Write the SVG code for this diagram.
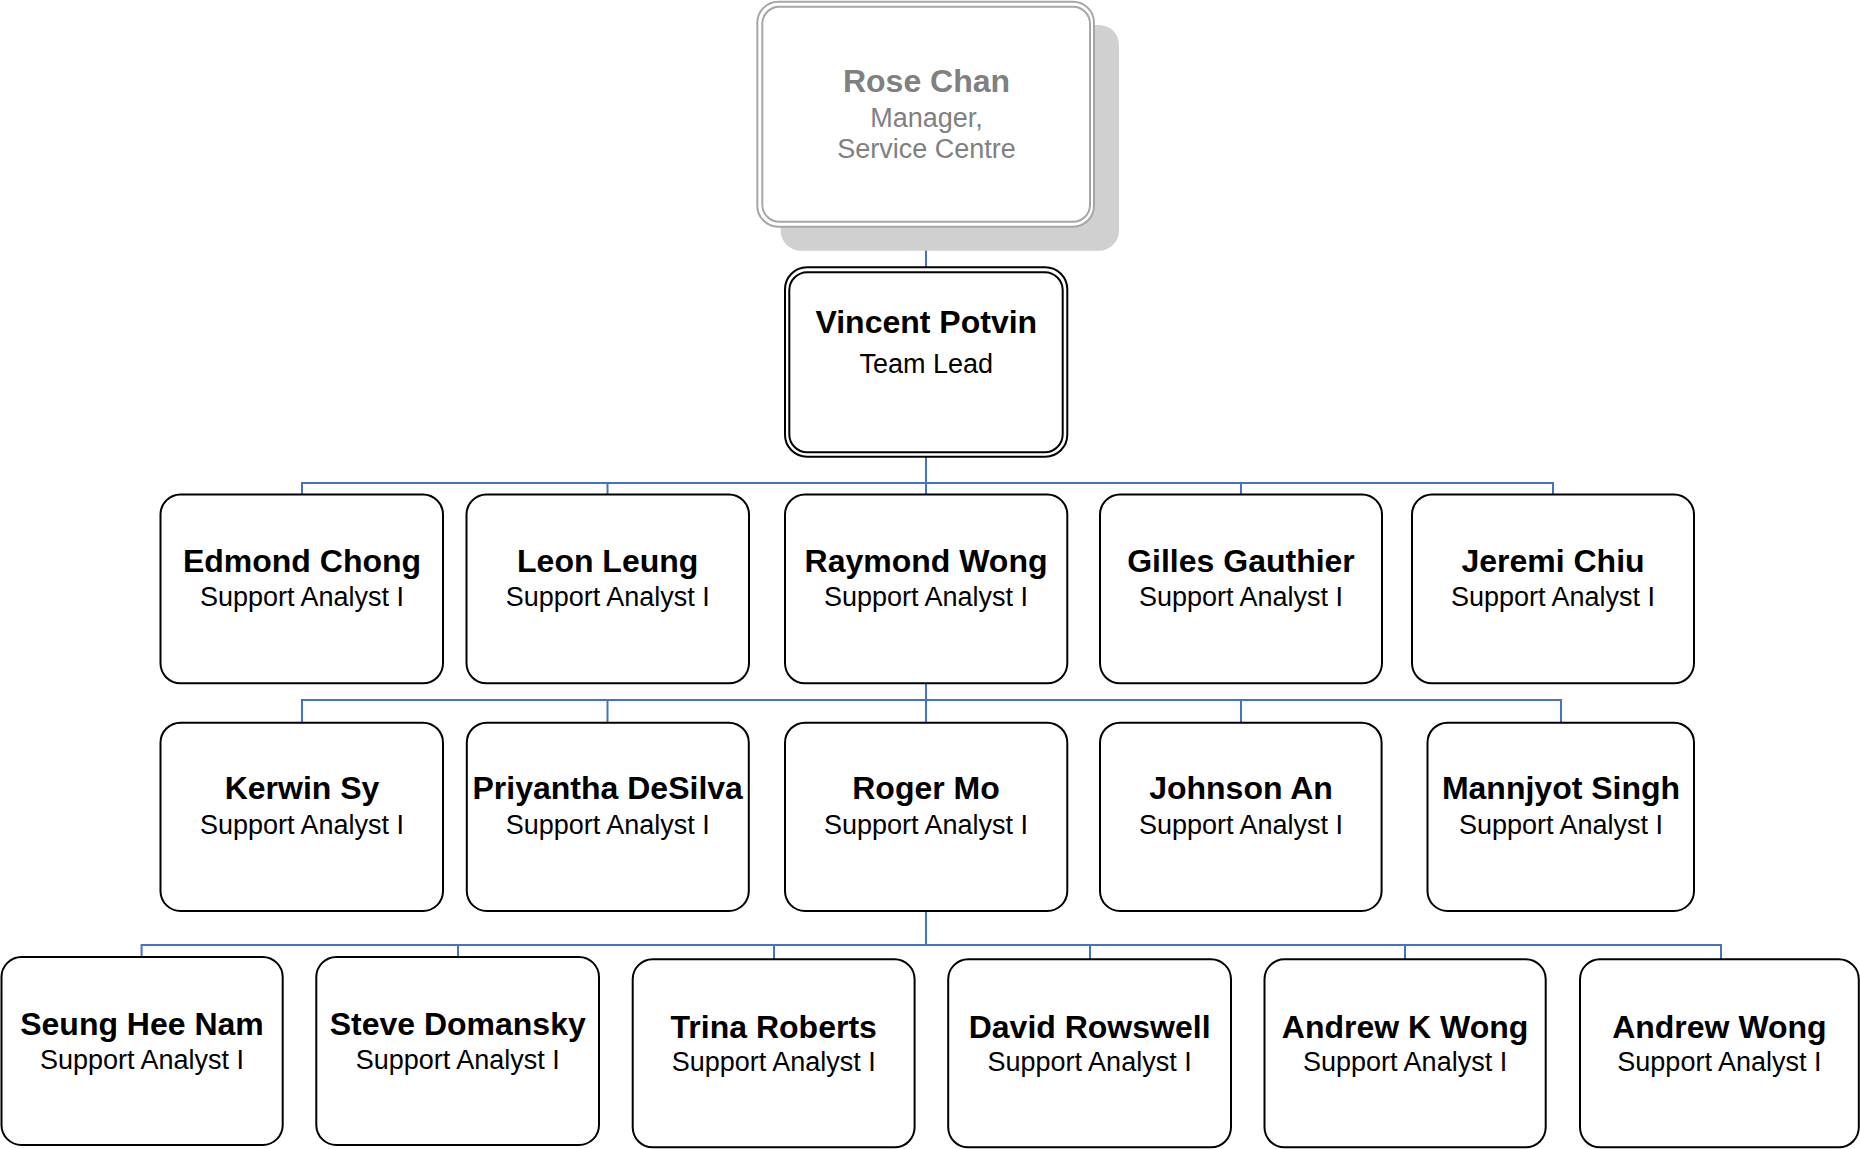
<svg xmlns="http://www.w3.org/2000/svg" width="1860" height="1149" viewBox="0 0 1860 1149">
<style>
.box{fill:#ffffff;stroke:#000000;stroke-width:2}
.name{font-family:"Liberation Sans",Arial,sans-serif;font-weight:bold;font-size:32px;fill:#000000;text-anchor:middle}
.role{font-family:"Liberation Sans",Arial,sans-serif;font-size:27px;fill:#000000;text-anchor:middle}
.conn{fill:none;stroke:#4472C4;stroke-width:2}
</style>
<rect width="1860" height="1149" fill="#ffffff"/>
<g id="connectors">
<path class="conn" d="M926 227V267"/>
<path class="conn" d="M926 457V483M302 494.5V483H1553V494.5M607.5 483V494.5M926 483V494.5M1241 483V494.5"/>
<path class="conn" d="M926 683V700M302 722.7V700H1561V722.7M607.5 700V722.7M926 700V722.7M1241 700V722.7"/>
<path class="conn" d="M926 911V945M141.6 957V945H1721V959M458 945V957M774 945V959M1090 945V959M1405 945V959"/>
</g>
<g id="rose-chan">
<rect x="780.7" y="25" width="338.3" height="225.7" rx="20" fill="#d0d0d0"/>
<rect x="757.3" y="1.7" width="336.7" height="225" rx="21" fill="#ffffff" stroke="#a6a6a6" stroke-width="2"/>
<rect x="762.3" y="6.7" width="327.7" height="215" rx="17" fill="none" stroke="#a6a6a6" stroke-width="2"/>
<text class="name" x="926.5" y="91.7" style="fill:#808080">Rose Chan</text>
<text class="role" x="926.5" y="126.5" style="fill:#808080">Manager,</text>
<text class="role" x="926.5" y="157.5" style="fill:#808080">Service Centre</text>
</g>
<g id="vincent-potvin">
<rect x="785" y="267.3" width="282.3" height="189.4" rx="22" class="box"/>
<rect x="789.3" y="272.3" width="273.4" height="180" rx="18" fill="none" stroke="#000" stroke-width="2"/>
<text class="name" x="926.3" y="333.3">Vincent Potvin</text>
<text class="role" x="926.3" y="373.3">Team Lead</text>
</g>
<g id="edmond-chong">
<rect x="160.5" y="494.5" width="282.5" height="188.8" rx="20" class="box"/>
<text class="name" x="302" y="571.5">Edmond Chong</text>
<text class="role" x="302" y="606">Support Analyst I</text>
</g>
<g id="leon-leung">
<rect x="466.5" y="494.5" width="282.5" height="188.8" rx="20" class="box"/>
<text class="name" x="607.7" y="571.5">Leon Leung</text>
<text class="role" x="607.7" y="606">Support Analyst I</text>
</g>
<g id="raymond-wong">
<rect x="785" y="494.5" width="282.3" height="188.8" rx="20" class="box"/>
<text class="name" x="926" y="571.5">Raymond Wong</text>
<text class="role" x="926" y="606">Support Analyst I</text>
</g>
<g id="gilles-gauthier">
<rect x="1100" y="494.5" width="282" height="188.8" rx="20" class="box"/>
<text class="name" x="1241" y="571.5">Gilles Gauthier</text>
<text class="role" x="1241" y="606">Support Analyst I</text>
</g>
<g id="jeremi-chiu">
<rect x="1412" y="494.5" width="282" height="188.8" rx="20" class="box"/>
<text class="name" x="1553" y="571.5">Jeremi Chiu</text>
<text class="role" x="1553" y="606">Support Analyst I</text>
</g>
<g id="kerwin-sy">
<rect x="160.5" y="722.7" width="282.5" height="188.3" rx="20" class="box"/>
<text class="name" x="302" y="799">Kerwin Sy</text>
<text class="role" x="302" y="834">Support Analyst I</text>
</g>
<g id="priyantha-desilva">
<rect x="466.8" y="722.7" width="282" height="188.3" rx="20" class="box"/>
<text class="name" x="607.7" y="799">Priyantha DeSilva</text>
<text class="role" x="607.7" y="834">Support Analyst I</text>
</g>
<g id="roger-mo">
<rect x="785" y="722.7" width="282.3" height="188.3" rx="20" class="box"/>
<text class="name" x="926" y="799">Roger Mo</text>
<text class="role" x="926" y="834">Support Analyst I</text>
</g>
<g id="johnson-an">
<rect x="1100" y="722.7" width="281.6" height="188.3" rx="20" class="box"/>
<text class="name" x="1241" y="799">Johnson An</text>
<text class="role" x="1241" y="834">Support Analyst I</text>
</g>
<g id="mannjyot-singh">
<rect x="1427.5" y="722.7" width="266.5" height="188.3" rx="20" class="box"/>
<text class="name" x="1561" y="799">Mannjyot Singh</text>
<text class="role" x="1561" y="834">Support Analyst I</text>
</g>
<g id="seung-hee-nam">
<rect x="1.5" y="957" width="281.2" height="188" rx="20" class="box"/>
<text class="name" x="142" y="1035">Seung Hee Nam</text>
<text class="role" x="142" y="1068.5">Support Analyst I</text>
</g>
<g id="steve-domansky">
<rect x="316.3" y="957" width="282.7" height="188" rx="20" class="box"/>
<text class="name" x="457.7" y="1035">Steve Domansky</text>
<text class="role" x="457.7" y="1068.5">Support Analyst I</text>
</g>
<g id="trina-roberts">
<rect x="632.7" y="959.3" width="281.9" height="188" rx="20" class="box"/>
<text class="name" x="773.7" y="1037.5">Trina Roberts</text>
<text class="role" x="773.7" y="1071">Support Analyst I</text>
</g>
<g id="david-rowswell">
<rect x="948.2" y="959.3" width="282.8" height="188" rx="20" class="box"/>
<text class="name" x="1089.6" y="1037.5">David Rowswell</text>
<text class="role" x="1089.6" y="1071">Support Analyst I</text>
</g>
<g id="andrew-k-wong">
<rect x="1264.5" y="959.3" width="281.2" height="188" rx="20" class="box"/>
<text class="name" x="1405.1" y="1037.5">Andrew K Wong</text>
<text class="role" x="1405.1" y="1071">Support Analyst I</text>
</g>
<g id="andrew-wong">
<rect x="1580" y="959.3" width="278.8" height="188" rx="20" class="box"/>
<text class="name" x="1719.4" y="1037.5">Andrew Wong</text>
<text class="role" x="1719.4" y="1071">Support Analyst I</text>
</g>
</svg>
